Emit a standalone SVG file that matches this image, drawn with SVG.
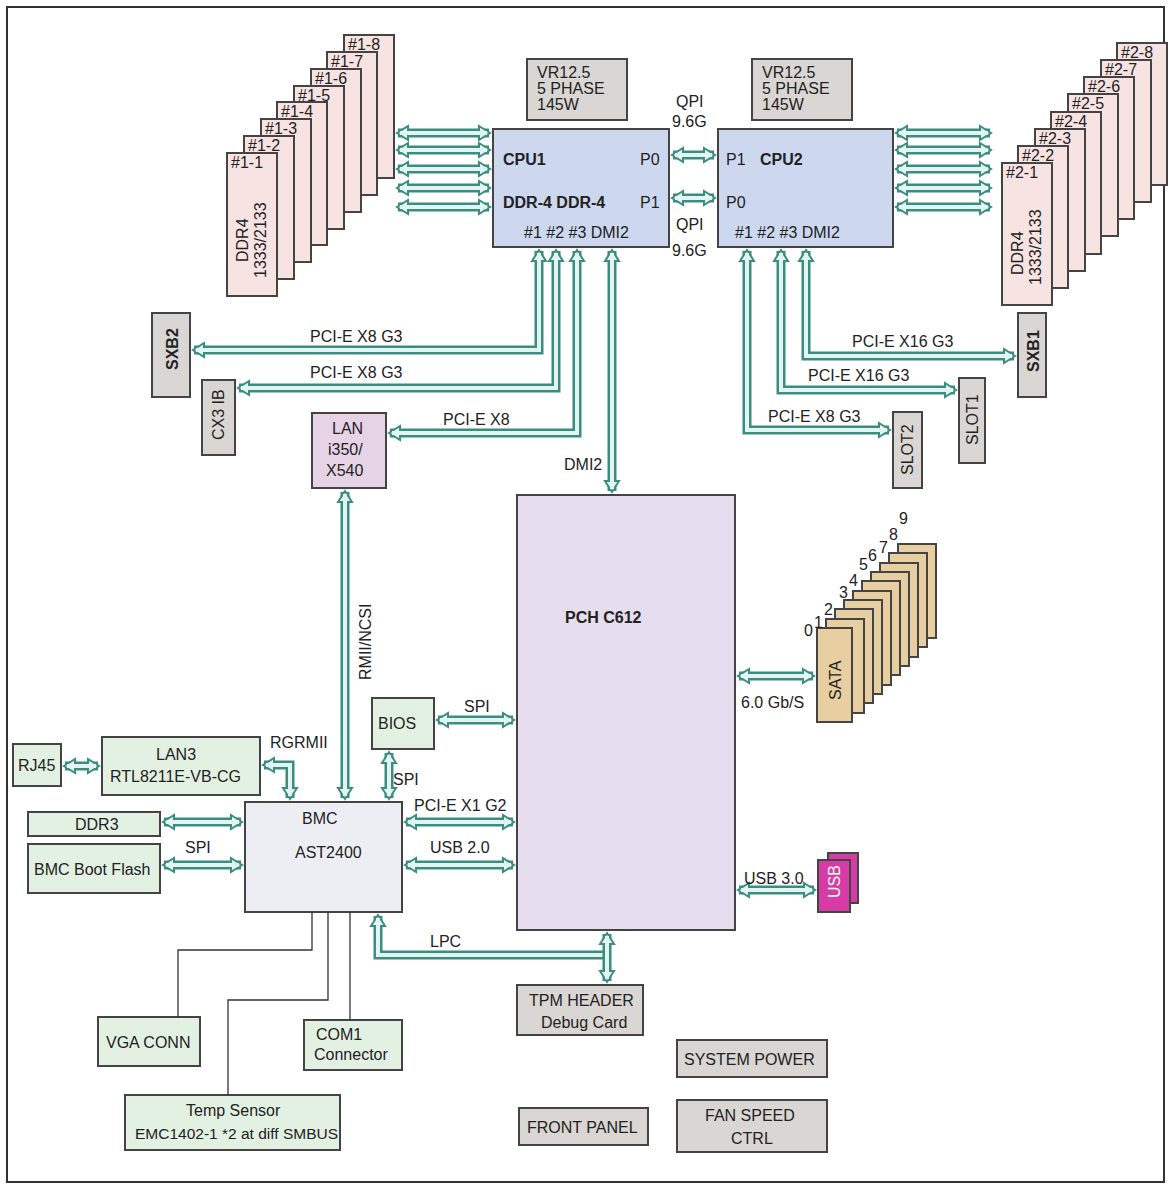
<svg xmlns="http://www.w3.org/2000/svg" width="1171" height="1187" viewBox="0 0 1171 1187">
<defs>
<style>
text{font-family:"Liberation Sans",Arial,sans-serif;font-size:16px;fill:#222}
.b{font-weight:bold}
.box{stroke:#444;stroke-width:2}
.dimm{fill:#f8e3e3;stroke:#444;stroke-width:2}
.sata{fill:#e8cfa2;stroke:#444;stroke-width:2}
.gray{fill:#d9d6d3}
.green{fill:#e3f1e3}
.co{fill:none;stroke:#3b8d80;stroke-width:9;marker-start:url(#ah);marker-end:url(#ah)}
.co1{fill:none;stroke:#3b8d80;stroke-width:9;marker-start:url(#ah)}
.ci{fill:none;stroke:#e2f5f2;stroke-width:4}
.thin{fill:none;stroke:#333;stroke-width:1.3}
</style>
<marker id="ah" markerUnits="userSpaceOnUse" markerWidth="16" markerHeight="18" refX="11" refY="8" orient="auto-start-reverse" viewBox="0 0 16 16">
<path d="M1,1 L12,8 L1,15 z" fill="#e2f5f2" stroke="#3b8d80" stroke-width="2"/>
</marker>
</defs>
<rect x="0" y="0" width="1171" height="1187" fill="#fff"/>
<rect x="7" y="7" width="1157" height="1175" fill="none" stroke="#333" stroke-width="2"/>

<g id="dimms1">
<rect class="dimm" x="344" y="35" width="50" height="143"/><text x="348" y="50">#1-8</text>
<rect class="dimm" x="327" y="52" width="50" height="143"/><text x="331" y="67">#1-7</text>
<rect class="dimm" x="311" y="69" width="50" height="143"/><text x="315" y="84">#1-6</text>
<rect class="dimm" x="294" y="86" width="50" height="143"/><text x="298" y="101">#1-5</text>
<rect class="dimm" x="277" y="102" width="50" height="143"/><text x="281" y="117">#1-4</text>
<rect class="dimm" x="261" y="119" width="50" height="143"/><text x="265" y="134">#1-3</text>
<rect class="dimm" x="244" y="136" width="50" height="143"/><text x="248" y="151">#1-2</text>
<rect class="dimm" x="227" y="153" width="50" height="143"/><text x="231" y="168">#1-1</text>
<text transform="translate(248,262) rotate(-90)">DDR4</text>
<text transform="translate(266,278) rotate(-90)">1333/2133</text>
</g>
<g id="dimms2">
<rect class="dimm" x="1117" y="43" width="50" height="142"/><text x="1121" y="58">#2-8</text>
<rect class="dimm" x="1101" y="60" width="50" height="142"/><text x="1105" y="75">#2-7</text>
<rect class="dimm" x="1084" y="77" width="50" height="142"/><text x="1088" y="92">#2-6</text>
<rect class="dimm" x="1068" y="94" width="50" height="142"/><text x="1072" y="109">#2-5</text>
<rect class="dimm" x="1051" y="112" width="50" height="142"/><text x="1055" y="127">#2-4</text>
<rect class="dimm" x="1035" y="129" width="50" height="142"/><text x="1039" y="144">#2-3</text>
<rect class="dimm" x="1018" y="146" width="50" height="142"/><text x="1022" y="161">#2-2</text>
<rect class="dimm" x="1002" y="163" width="50" height="142"/><text x="1006" y="178">#2-1</text>
<text transform="translate(1023,275) rotate(-90)">DDR4</text>
<text transform="translate(1041,285) rotate(-90)">1333/2133</text>
</g>

<g id="vr1"><rect class="box gray" x="527" y="59" width="100" height="61"/><text x="537" y="78">VR12.5</text><text x="537" y="94">5 PHASE</text><text x="537" y="110">145W</text></g>
<g id="vr2"><rect class="box gray" x="752" y="59" width="100" height="61"/><text x="762" y="78">VR12.5</text><text x="762" y="94">5 PHASE</text><text x="762" y="110">145W</text></g>

<g id="cpu1"><rect class="box" fill="#cdd8ef" x="493" y="129" width="176" height="118"/>
<text class="b" x="503" y="165">CPU1</text><text x="640" y="165">P0</text>
<text class="b" x="503" y="208">DDR-4 DDR-4</text><text x="640" y="208">P1</text>
<text x="524" y="238">#1  #2  #3  DMI2</text></g>
<g id="cpu2"><rect class="box" fill="#cdd8ef" x="718" y="129" width="175" height="118"/>
<text x="726" y="165">P1</text><text class="b" x="760" y="165">CPU2</text>
<text x="726" y="208">P0</text>
<text x="735" y="238">#1   #2   #3  DMI2</text></g>

<g id="sxb2"><rect class="box gray" x="152" y="313" width="38" height="84"/><text class="b" transform="translate(178,370) rotate(-90)">SXB2</text></g>
<g id="cx3"><rect class="box gray" x="202" y="380" width="33" height="75"/><text transform="translate(224,440) rotate(-90)">CX3 IB</text></g>
<g id="lan"><rect class="box" fill="#e6d4e6" x="312" y="413" width="74" height="75"/><text x="332" y="434">LAN</text><text x="328" y="455">i350/</text><text x="326" y="476">X540</text></g>
<g id="sxb1"><rect class="box gray" x="1018" y="313" width="28" height="84"/><text class="b" transform="translate(1039,372) rotate(-90)">SXB1</text></g>
<g id="slot1"><rect class="box gray" x="959" y="378" width="26" height="85"/><text transform="translate(978,445) rotate(-90)">SLOT1</text></g>
<g id="slot2"><rect class="box gray" x="893" y="412" width="29" height="76"/><text transform="translate(913,475) rotate(-90)">SLOT2</text></g>

<g id="pch"><rect class="box" fill="#e6ddef" x="517" y="495" width="218" height="435"/><text class="b" x="565" y="623">PCH  C612</text></g>

<g id="sata">
<rect class="sata" x="898" y="544" width="38" height="94"/>
<rect class="sata" x="889" y="553" width="38" height="94"/>
<rect class="sata" x="880" y="563" width="38" height="94"/>
<rect class="sata" x="871" y="572" width="38" height="94"/>
<rect class="sata" x="862" y="581" width="38" height="94"/>
<rect class="sata" x="853" y="591" width="38" height="94"/>
<rect class="sata" x="844" y="600" width="38" height="94"/>
<rect class="sata" x="835" y="609" width="38" height="94"/>
<rect class="sata" x="826" y="619" width="38" height="94"/>
<rect class="sata" x="817" y="628" width="35" height="94"/>
<text transform="translate(841,700) rotate(-90)">SATA</text>
<text x="804" y="636">0</text><text x="814" y="628">1</text><text x="824" y="615">2</text><text x="839" y="598">3</text><text x="849" y="586">4</text><text x="859" y="570">5</text><text x="868" y="561">6</text><text x="879" y="553">7</text><text x="889" y="540">8</text><text x="899" y="524">9</text>
</g>

<g id="bios"><rect class="box green" x="372" y="698" width="62" height="51"/><text x="378" y="729">BIOS</text></g>
<g id="rj45"><rect class="box green" x="13" y="744" width="48" height="42"/><text x="18" y="771">RJ45</text></g>
<g id="lan3"><rect class="box green" x="102" y="737" width="158" height="58"/><text x="156" y="760">LAN3</text><text x="110" y="782">RTL8211E-VB-CG</text></g>
<g id="ddr3"><rect class="box green" x="28" y="812" width="132" height="24"/><text x="75" y="830">DDR3</text></g>
<g id="flash"><rect class="box green" x="28" y="844" width="132" height="49"/><text x="34" y="875">BMC Boot Flash</text></g>
<g id="bmc"><rect class="box" fill="#eceef3" x="245" y="802" width="157" height="110"/><text x="302" y="824">BMC</text><text x="295" y="858">AST2400</text></g>
<g id="usb"><rect class="box" fill="#d63ba6" x="828" y="853" width="30" height="50"/><rect class="box" fill="#d63ba6" x="818" y="860" width="32" height="52"/><text style="fill:#fff" transform="translate(840,898) rotate(-90)">USB</text></g>
<g id="tpm"><rect class="box gray" x="517" y="985" width="126" height="50"/><text x="529" y="1006">TPM HEADER</text><text x="541" y="1028">Debug Card</text></g>
<g id="vga"><rect class="box green" x="98" y="1017" width="102" height="49"/><text x="106" y="1048">VGA CONN</text></g>
<g id="com1"><rect class="box green" x="304" y="1020" width="98" height="50"/><text x="316" y="1040">COM1</text><text x="314" y="1060">Connector</text></g>
<g id="temp"><rect class="box green" x="125" y="1095" width="215" height="55"/><text x="186" y="1116">Temp Sensor</text><text x="135" y="1139" style="font-size:15.5px">EMC1402-1 *2 at diff SMBUS</text></g>
<g id="syspower"><rect class="box gray" x="677" y="1040" width="150" height="37"/><text x="684" y="1065">SYSTEM POWER</text></g>
<g id="frontpanel"><rect class="box gray" x="519" y="1108" width="129" height="37"/><text x="527" y="1133">FRONT PANEL</text></g>
<g id="fan"><rect class="box gray" x="677" y="1100" width="150" height="52"/><text x="705" y="1121">FAN SPEED</text><text x="731" y="1144">CTRL</text></g>

<g id="connectors">
<path class="co" d="M398,133H489"/><path class="co" d="M398,150H489"/><path class="co" d="M398,169H489"/><path class="co" d="M398,188H489"/><path class="co" d="M398,207H489"/>
<path class="ci" d="M400,133H487 M400,150H487 M400,169H487 M400,188H487 M400,207H487"/>
<path class="co" d="M897,133H990"/><path class="co" d="M897,150H990"/><path class="co" d="M897,169H990"/><path class="co" d="M897,188H990"/><path class="co" d="M897,207H990"/>
<path class="ci" d="M899,133H988 M899,150H988 M899,169H988 M899,188H988 M899,207H988"/>
<path class="co" d="M673,155H714"/><path class="co" d="M673,198H714"/><path class="ci" d="M675,155H712 M675,198H712"/>
<path class="co" d="M539,251V350H194"/><path class="ci" d="M539,253V350H196"/>
<path class="co" d="M556,251V388H239"/><path class="ci" d="M556,253V388H241"/>
<path class="co" d="M577,251V433H390"/><path class="ci" d="M577,253V433H392"/>
<path class="co" d="M612,251V491"/><path class="ci" d="M612,253V489"/>
<path class="co" d="M806,251V356H1014"/><path class="ci" d="M806,253V356H1012"/>
<path class="co" d="M781,251V390H955"/><path class="ci" d="M781,253V390H953"/>
<path class="co" d="M747,251V430H889"/><path class="ci" d="M747,253V430H887"/>
<path class="co" d="M739,676H813"/><path class="ci" d="M741,676H811"/>
<path class="co" d="M438,720H513"/><path class="ci" d="M440,720H511"/>
<path class="co" d="M345,492V798"/><path class="ci" d="M345,494V796"/>
<path class="co" d="M389,753V798"/><path class="ci" d="M389,755V796"/>
<path class="co" d="M264,765H290V798"/><path class="ci" d="M266,765H290V796"/>
<path class="co" d="M65,766H98"/><path class="ci" d="M67,766H96"/>
<path class="co" d="M164,822H241"/><path class="co" d="M164,865H241"/><path class="ci" d="M166,822H239 M166,865H239"/>
<path class="co" d="M406,822H513"/><path class="co" d="M406,865H513"/><path class="ci" d="M408,822H511 M408,865H511"/>
<path class="co1" d="M378,916V955H607"/><path class="ci" d="M378,918V955H607"/>
<path class="co" d="M607,934V981"/><path class="ci" d="M607,936V979"/>
<path class="co" d="M739,890H814"/><path class="ci" d="M741,890H812"/>
<path class="thin" d="M312,912V950H178V1017 M328,912V1000H228V1095 M350,912V1020"/>
</g>

<g id="labels">
<text x="676" y="107">QPI</text><text x="672" y="127">9.6G</text>
<text x="676" y="230">QPI</text><text x="672" y="256">9.6G</text>
<text x="310" y="342">PCI-E X8 G3</text><text x="310" y="378">PCI-E X8 G3</text>
<text x="443" y="425">PCI-E X8</text><text x="564" y="470">DMI2</text>
<text x="852" y="347">PCI-E X16 G3</text><text x="808" y="381">PCI-E X16 G3</text><text x="768" y="422">PCI-E X8 G3</text>
<text x="741" y="708">6.0 Gb/S</text>
<text x="464" y="712">SPI</text>
<text x="270" y="748">RGRMII</text>
<text transform="translate(371,680) rotate(-90)">RMII/NCSI</text>
<text x="393" y="785">SPI</text>
<text x="414" y="811">PCI-E X1 G2</text><text x="430" y="853">USB 2.0</text>
<text x="185" y="853">SPI</text>
<text x="430" y="947">LPC</text>
<text x="744" y="884">USB 3.0</text>
</g>
</svg>
